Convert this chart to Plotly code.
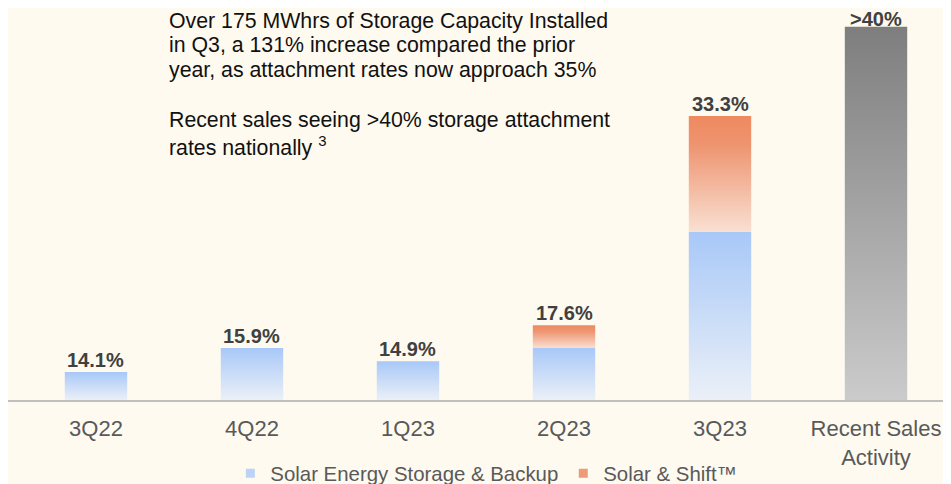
import plotly.graph_objects as go

# Chart data
categories = ["3Q22", "4Q22", "1Q23", "2Q23", "3Q23", "Recent Sales<br>Activity"]
storage_backup = [14.1, 15.9, 14.9, 15.9, 24.6, None]
solar_shift = [None, None, None, 1.7, 8.7, None]
recent_sales = [None, None, None, None, None, 40.0]
bar_labels = ["14.1%", "15.9%", "14.9%", "17.6%", "33.3%", ">40%"]

series_names = ["Solar Energy Storage & Backup", "Solar & Shift™"]

text_lines = [
    "Over 175 MWhrs of Storage Capacity Installed",
    "in Q3, a 131% increase compared the prior",
    "year, as attachment rates now approach 35%",
    "Recent sales seeing >40% storage attachment",
    "rates nationally <sup>3</sup>",
]

# Styling (the page body adds an 8px margin, positions are shifted for it)
W, H = 951, 484
PAGE_OFFSET = 8
PLOT_H = 392
AXIS_MIN = 12
AXIS_MAX = 41.4
BAR_HALF = 0.2
BG = "#FEFAEF"
FONT = "Liberation Sans, Arial, sans-serif"
TEXT_LINE_Y = [21, 45, 70, 120, 146]   # page pixel centre of each text line
LABEL_SHIFT = [-1, -1, -1, -1, -1, -5.5]

BLUE_SCALE = [[0, "#EBF0F7"], [1, "#A8C8F8"]]
ORANGE_SCALE = [[0, "#F9E0D2"], [0.75, "#EE9470"], [1, "#EE8A60"]]
GRAY_SCALE = [[0, "#CBCBCB"], [1, "#7E7E7E"]]


def add_gradient_bar(fig, x, y0, y1, colorscale):
    """Draw one bar segment as a filled rectangle with a vertical gradient."""
    fig.add_trace(go.Scatter(
        x=[x - BAR_HALF, x + BAR_HALF, x + BAR_HALF, x - BAR_HALF, x - BAR_HALF],
        y=[y0, y0, y1, y1, y0],
        mode="lines",
        line=dict(width=0),
        fill="toself",
        fillgradient=dict(type="vertical", colorscale=colorscale),
        hoverinfo="skip",
        showlegend=False,
    ))


def build_figure():
    fig = go.Figure()
    tops = []

    for i, cat in enumerate(categories):
        top = AXIS_MIN
        if storage_backup[i] is not None:
            add_gradient_bar(fig, i, AXIS_MIN, storage_backup[i], BLUE_SCALE)
            top = storage_backup[i]
        if solar_shift[i] is not None:
            add_gradient_bar(fig, i, top, top + solar_shift[i], ORANGE_SCALE)
            top = top + solar_shift[i]
        if recent_sales[i] is not None:
            add_gradient_bar(fig, i, AXIS_MIN, recent_sales[i], GRAY_SCALE)
            top = recent_sales[i]
        tops.append(top)

    # legend entries
    for name, color in zip(series_names, ["#BCD3F5", "#EE9B7A"]):
        fig.add_trace(go.Scatter(
            x=[None], y=[None], mode="markers", name=name,
            marker=dict(symbol="square", size=9, color=color),
        ))

    # value labels above the bars
    for i, label in enumerate(bar_labels):
        fig.add_annotation(
            x=i, y=tops[i], text=f"<b>{label}</b>", showarrow=False,
            yanchor="bottom", yshift=LABEL_SHIFT[i],
            font=dict(family=FONT, size=20, color="#404040"),
        )

    # commentary text block, one annotation per line
    for line, py in zip(text_lines, TEXT_LINE_Y):
        fig.add_annotation(
            xref="paper", yref="paper", x=160 / W, y=1 - (py - PAGE_OFFSET) / PLOT_H,
            xanchor="left", yanchor="middle", align="left", borderpad=0,
            text=line, showarrow=False,
            font=dict(family=FONT, size=21.3, color="#111111"),
        )

    fig.update_layout(
        width=W, height=H,
        margin=dict(l=0, r=0, t=0, b=H - PLOT_H, autoexpand=False),
        paper_bgcolor=BG, plot_bgcolor=BG,
        font=dict(family=FONT),
        showlegend=True,
        legend=dict(
            orientation="h", x=0.503, y=-0.1875, xanchor="center", yanchor="middle",
            font=dict(size=20.4, color="#595959"), bgcolor="rgba(0,0,0,0)",
        ),
        xaxis=dict(
            tickmode="array", tickvals=list(range(len(categories))), ticktext=categories,
            range=[-0.564, 5.532], showgrid=False, zeroline=False,
            showline=True, linecolor="#BFBFBF", linewidth=1.5,
            tickfont=dict(size=22, color="#595959"), ticklabelstandoff=8,
        ),
        yaxis=dict(range=[AXIS_MIN, AXIS_MAX], visible=False),
    )
    return fig


def main():
    fig = build_figure()
    fig.write_html("out.html")


if __name__ == "__main__":
    main()
